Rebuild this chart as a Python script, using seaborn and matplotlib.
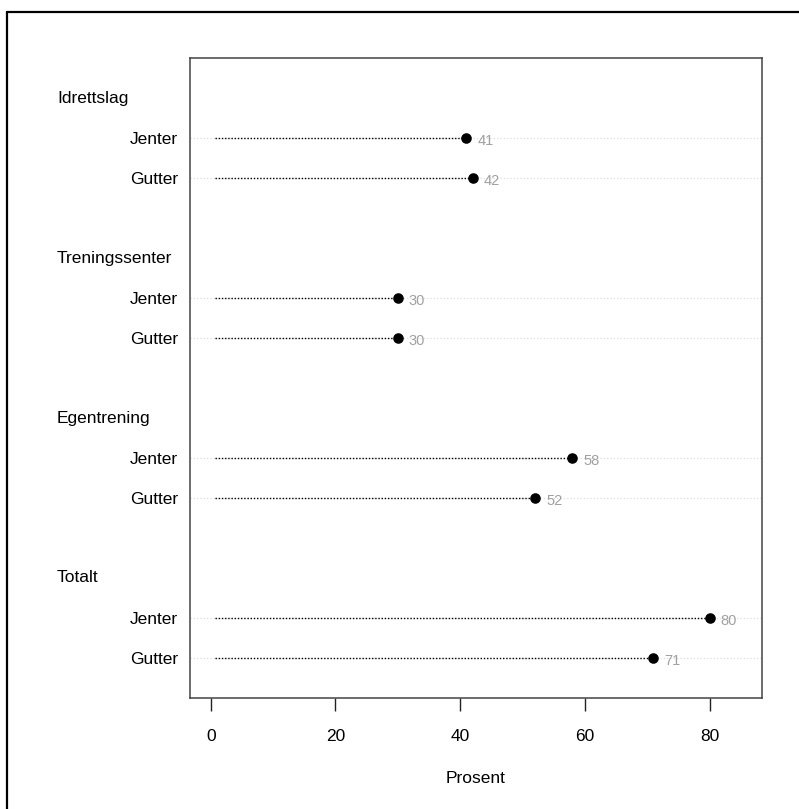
import matplotlib
matplotlib.use("Agg")
import matplotlib.pyplot as plt
import seaborn as sns
import pandas as pd
from matplotlib.lines import Line2D
from matplotlib.transforms import blended_transform_factory

# data
groups = ["Idrettslag", "Treningssenter", "Egentrening", "Totalt"]
sexes = ["Jenter", "Gutter"]
jenter = [41, 30, 58, 80]
gutter = [42, 30, 52, 71]

# dotchart style positions: each group = header + two rows + blank line
rows = []
pos = 15
header_pos = []
for g, j, gu in zip(groups, jenter, gutter):
    header_pos.append(pos)
    rows.append({"group": g, "sex": "Jenter", "value": j, "y": pos - 1})
    rows.append({"group": g, "sex": "Gutter", "value": gu, "y": pos - 2})
    pos -= 4
df = pd.DataFrame(rows)

sns.set_theme(style="white")
plt.rcParams["font.family"] = ["Liberation Sans", "DejaVu Sans"]
plt.rcParams["text.color"] = "black"

fig = plt.figure(figsize=(7.99, 8.09), dpi=100)
ax = fig.add_axes([189.5 / 799, 1 - 698 / 809, (762 - 189.5) / 799, (698 - 58) / 809])

# light gray guide lines across the whole panel
for y in df["y"]:
    ax.axhline(y, color="#d6d6d6", lw=0.8, linestyle=(0, (1, 2)), zorder=1)
# black dotted line from zero to the value
ax.hlines(df["y"], 0.7, df["value"], color="black", lw=1.0, linestyle=(0, (1, 1.3)), zorder=2)

sns.scatterplot(data=df, x="value", y="y", color="black", s=58, edgecolor="black",
                linewidth=0, ax=ax, zorder=3, legend=False)

for v, y in zip(df["value"], df["y"]):
    ax.annotate(str(v), (v, y), xytext=(8, -2), textcoords="offset points",
                ha="left", va="center", fontsize=10.5, color="#a0a0a0")

ax.set_xlim(-3.4, 88.4)
ax.set_ylim(0, 16)
ax.set_xticks([0, 20, 40, 60, 80])
ax.set_yticks(df["y"])
ax.set_yticklabels(df["sex"])
ax.tick_params(axis="y", length=0, pad=8, labelsize=12.5, labelcolor="black")
ax.tick_params(axis="x", length=9, width=1, pad=13, labelsize=12.5, color="#222222",
               labelcolor="black", direction="out", bottom=True)
ax.set_xlabel("Prosent", fontsize=12.5, labelpad=20, color="black")
ax.set_ylabel("")

for s in ax.spines.values():
    s.set_color("#444444")
    s.set_linewidth(1.1)

# group headers at the left margin
trans = blended_transform_factory(fig.transFigure, ax.transData)
for g, hp in zip(groups, header_pos):
    fig.text(57 / 799, hp, g, transform=trans, ha="left", va="center", fontsize=12.5,
             color="black")

# outer frame (left and top edges)
fig.add_artist(Line2D([7 / 799, 7 / 799], [0, 1 - 12 / 809], color="black", lw=1.6,
                      transform=fig.transFigure))
fig.add_artist(Line2D([7 / 799, 1], [1 - 12 / 809, 1 - 12 / 809], color="black", lw=1.6,
                      transform=fig.transFigure))

fig.savefig("out.png", dpi=100)
